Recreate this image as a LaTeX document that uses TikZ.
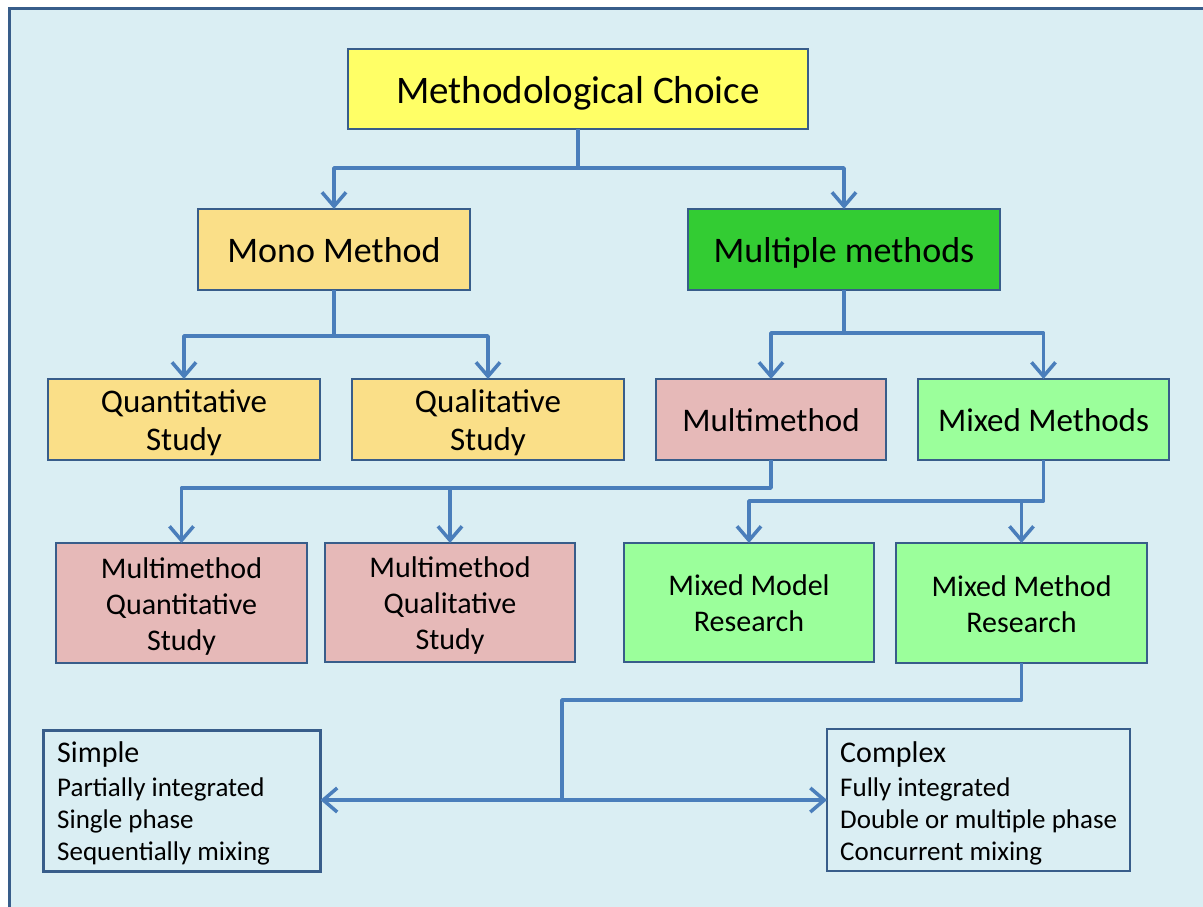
\documentclass[tikz,border=0pt]{standalone}
\usepackage{fontspec}
\setmainfont{Carlito}
\usetikzlibrary{arrows.meta}
\definecolor{bgblue}{HTML}{DAEEF3}
\definecolor{framecol}{HTML}{385D8A}
\definecolor{linkcol}{HTML}{4A7EBB}
\definecolor{topyellow}{HTML}{FFFF66}
\definecolor{monoyellow}{HTML}{FADF88}
\definecolor{multigreen}{HTML}{33CC33}
\definecolor{rosepink}{HTML}{E6B9B8}
\definecolor{palegreen}{HTML}{9BFF9B}
% struts that keep the capital letters centred in each box
\newcommand{\ts}{\rule{0pt}{1.1em}}
\newcommand{\bs}{\rule[-0.356em]{0pt}{0.356em}}
% slimmer pair for the two-line boxes of the third row
\newcommand{\tsc}{\rule{0pt}{1.02em}}
\newcommand{\bsc}{\rule[-0.277em]{0pt}{0.277em}}
\newcommand{\firststrut}{\rule{0pt}{1em}}
\tikzset{
  box/.style={draw=framecol, line width=2.5pt, rectangle, align=center, inner sep=0pt, outer sep=0pt, text=black},
  lvla/.style={box, font=\fontsize{39}{47}\selectfont},
  lvlb/.style={box, font=\fontsize{36}{43}\selectfont},
  lvlc/.style={box, font=\fontsize{33}{38}\selectfont},
  lvld/.style={box, font=\fontsize{30}{36}\selectfont},
  listtext/.style={anchor=north west, align=left, inner sep=0pt, font=\fontsize{27}{32}\selectfont},
  link/.style={draw=linkcol, line width=3.5pt, line join=round},
  arr/.style={link, -{Straight Barb[length=14pt,width=24pt,line width=3.5pt]}}
}
\begin{document}
\begin{tikzpicture}[x=1pt,y=-1pt]
\useasboundingbox (0,0) rectangle (1203,907);
% panel background and frame
\fill[bgblue] (9,9) rectangle (1203,907);
\draw[framecol, line width=3pt] (9,907) -- (9,9) -- (1203,9);

% boxes
\node[lvla, fill=topyellow, minimum width=460, minimum height=80] (mc) at (578,89) {\ts Methodological Choice\bs};
\node[lvlb, fill=monoyellow, minimum width=272, minimum height=81] (mono) at (334,249.5) {\ts Mono Method\bs};
\node[lvlb, fill=multigreen, minimum width=312, minimum height=81] (multi) at (844,249.5) {\ts Multiple methods\bs};

\node[lvlc, fill=monoyellow, minimum width=272, minimum height=81] (quant) at (184,419.5) {\tsc Quantitative\\Study\bsc};
\node[lvlc, fill=monoyellow, minimum width=272, minimum height=81] (qual) at (488,419.5) {\tsc Qualitative\\Study\bsc};
\node[lvlc, fill=rosepink, minimum width=230, minimum height=81] (mm) at (771,419.5) {\tsc Multimethod\bsc};
\node[lvlc, fill=palegreen, minimum width=251, minimum height=81] (mixed) at (1043.5,419.5) {\tsc Mixed Methods\bsc};

\node[lvld, fill=rosepink, minimum width=251, minimum height=120] (mmquant) at (181.5,603) {\ts Multimethod\\Quantitative\\Study\bs};
\node[lvld, fill=rosepink, minimum width=250, minimum height=119] (mmqual) at (450,602.5) {\ts Multimethod\\Qualitative\\Study\bs};
\node[lvld, fill=palegreen, minimum width=250, minimum height=119] (mmodel) at (749,602.5) {\ts Mixed Model\\Research\bs};
\node[lvld, fill=palegreen, minimum width=251, minimum height=120] (mmethod) at (1021.5,603) {\ts Mixed Method\\Research\bs};

\node[box, minimum width=277, minimum height=141] (simple) at (182,801) {};
\node[listtext] (simpletxt) at (57,732)
  {{\fontsize{30}{32}\selectfont\firststrut Simple}\\[2pt]Partially integrated\\Single phase\\Sequentially mixing};
\node[box, minimum width=303, minimum height=142] (complex) at (978.5,800) {};
\node[listtext] (complextxt) at (840,732)
  {{\fontsize{30}{32}\selectfont\firststrut Complex}\\[2pt]Fully integrated\\Double or multiple phase\\Concurrent mixing};

% connectors
\coordinate (ja) at (578,168);
\draw[arr] (mc.south) -- (ja) -| (mono.north);
\draw[arr] (ja) -| (multi.north);

\coordinate (jb) at (334,336);
\draw[arr] (mono.south) -- (jb) -| (quant.north);
\draw[arr] (jb) -| (qual.north);

\coordinate (jc) at (844,333);
\draw[arr] (multi.south) -- (jc) -| (mm.north);
\draw[arr] (jc) -| (mixed.north);

\coordinate (jd) at (771,488);
\coordinate (je) at (450,488);
\draw[arr] (mm.south) -- (jd) -| (mmquant.north);
\draw[arr] (je) -- (mmqual.north);

\coordinate (jf) at (1043.5,501);
\draw[arr] (mixed.south) -- (jf) -| (mmodel.north);
\draw[arr] (jf) -| (mmethod.north);

\coordinate (jg) at (1021.5,700);
\coordinate (jh) at (562,700);
\coordinate (ji) at (562,800);
\draw[link] (mmethod.south) -- (jg) -- (jh) -- (ji);
\draw[arr] (ji) -- (simple.east |- ji);
\draw[arr] (ji) -- (complex.west);
\end{tikzpicture}
\end{document}
